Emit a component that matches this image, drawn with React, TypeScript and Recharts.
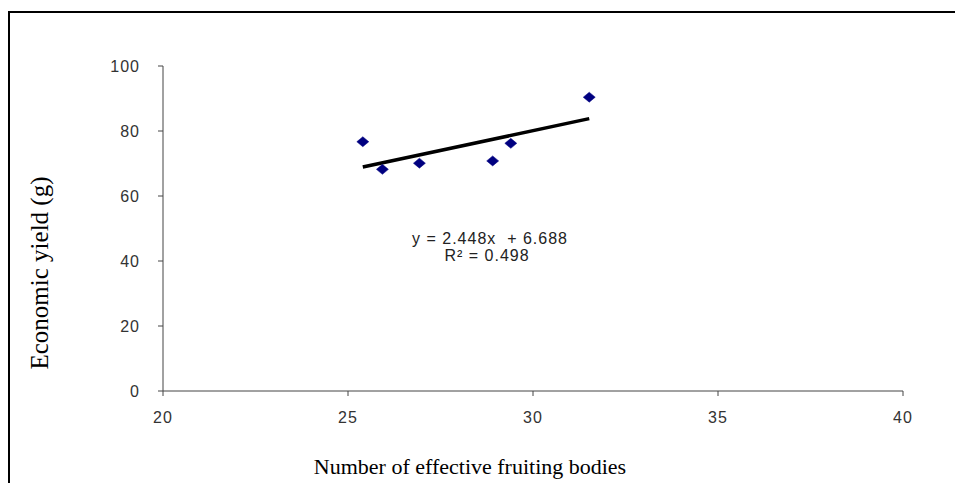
import React from 'react';
import { ScatterChart, Scatter, XAxis, YAxis } from 'recharts';

const fruitingBodies = [25.4, 25.93, 26.93, 28.91, 29.4, 31.52];
const economicYield = [76.7, 68.2, 70.1, 70.8, 76.2, 90.4];
const trendX = [25.4, 31.52];
const trendY = [68.9, 83.8];
const xTicks = [20, 25, 30, 35, 40];
const yTicks = [0, 20, 40, 60, 80, 100];
const xTitle = 'Number of effective fruiting bodies';
const yTitle = 'Economic yield (g)';
const equationText = 'y = 2.448x  + 6.688';
const r2Text = 'R² = 0.498';

const points = fruitingBodies.map((x, i) => ({ x, y: economicYield[i] }));
const trend = trendX.map((x, i) => ({ x, y: trendY[i] }));

const Diamond = (props: any) => {
  const { cx, cy } = props;
  if (cx == null || cy == null) return <g />;
  const w = 6;
  const h = 5;
  return (
    <polygon
      points={`${cx},${cy - h} ${cx + w},${cy} ${cx},${cy + h} ${cx - w},${cy}`}
      fill="#000080"
      stroke="#000080"
      strokeWidth={0.5}
    />
  );
};

const NoShape = () => <g />;

const tickStyle = {
  fill: '#333',
  fontSize: 16,
  fontFamily: '"Liberation Sans", Arial, sans-serif',
  letterSpacing: 1,
};

export default function App() {
  return (
    <div
      style={{
        position: 'fixed',
        left: 0,
        top: 0,
        width: 955,
        height: 483,
        overflow: 'hidden',
        background: '#fff',
      }}
    >
      <style>{`html, body { overflow: hidden; } ::-webkit-scrollbar { display: none; }`}</style>
      <svg width={955} height={483} style={{ position: 'absolute', left: 0, top: 0 }}>
        <line x1={9} y1={12} x2={955} y2={12} stroke="#000" strokeWidth={2} />
        <line x1={9} y1={11} x2={9} y2={483} stroke="#000" strokeWidth={2} />
      </svg>
      <div style={{ position: 'absolute', left: 8, top: 8, width: 930, height: 475, overflow: 'hidden' }}>
        <ScatterChart
          width={930}
          height={475}
          margin={{ top: 58, right: 35, bottom: 62, left: 95 }}
        >
          <XAxis
            type="number"
            dataKey="x"
            domain={[20, 40]}
            ticks={xTicks}
            interval={0}
            allowDataOverflow
            stroke="#444"
            tickLine={{ stroke: '#444' }}
            tickSize={5}
            tickMargin={16}
            height={30}
            tick={tickStyle}
          />
          <YAxis
            type="number"
            dataKey="y"
            domain={[0, 100]}
            ticks={yTicks}
            interval={0}
            allowDataOverflow
            stroke="#444"
            tickLine={{ stroke: '#444' }}
            tickSize={5}
            tickMargin={18}
            width={60}
            tick={tickStyle}
          />
          <Scatter
            data={trend}
            line={{ stroke: '#000', strokeWidth: 3.5 }}
            lineType="joint"
            shape={NoShape}
            isAnimationActive={false}
          />
          <Scatter data={points} shape={Diamond} isAnimationActive={false} />
        </ScatterChart>
      </div>
      <div
        style={{
          position: 'absolute',
          left: 408,
          top: 230,
          width: 164,
          textAlign: 'center',
          fontFamily: '"Liberation Sans", Arial, sans-serif',
          fontSize: 16,
          letterSpacing: 1,
          lineHeight: '17px',
          color: '#222',
          whiteSpace: 'pre',
        }}
      >
        <div>{equationText}</div>
        <div style={{ marginLeft: -6 }}>{r2Text}</div>
      </div>
      <div
        style={{
          position: 'absolute',
          left: 270,
          top: 454,
          width: 400,
          textAlign: 'center',
          fontFamily: '"Liberation Serif", "Times New Roman", serif',
          fontSize: 22,
          lineHeight: '26px',
          color: '#000',
          whiteSpace: 'nowrap',
        }}
      >
        {xTitle}
      </div>
      <div
        style={{
          position: 'absolute',
          left: 40 - 150,
          top: 273 - 15,
          width: 300,
          height: 30,
          textAlign: 'center',
          fontFamily: '"Liberation Serif", "Times New Roman", serif',
          fontSize: 25,
          lineHeight: '30px',
          color: '#000',
          whiteSpace: 'nowrap',
          transform: 'rotate(-90deg)',
        }}
      >
        {yTitle}
      </div>
    </div>
  );
}
